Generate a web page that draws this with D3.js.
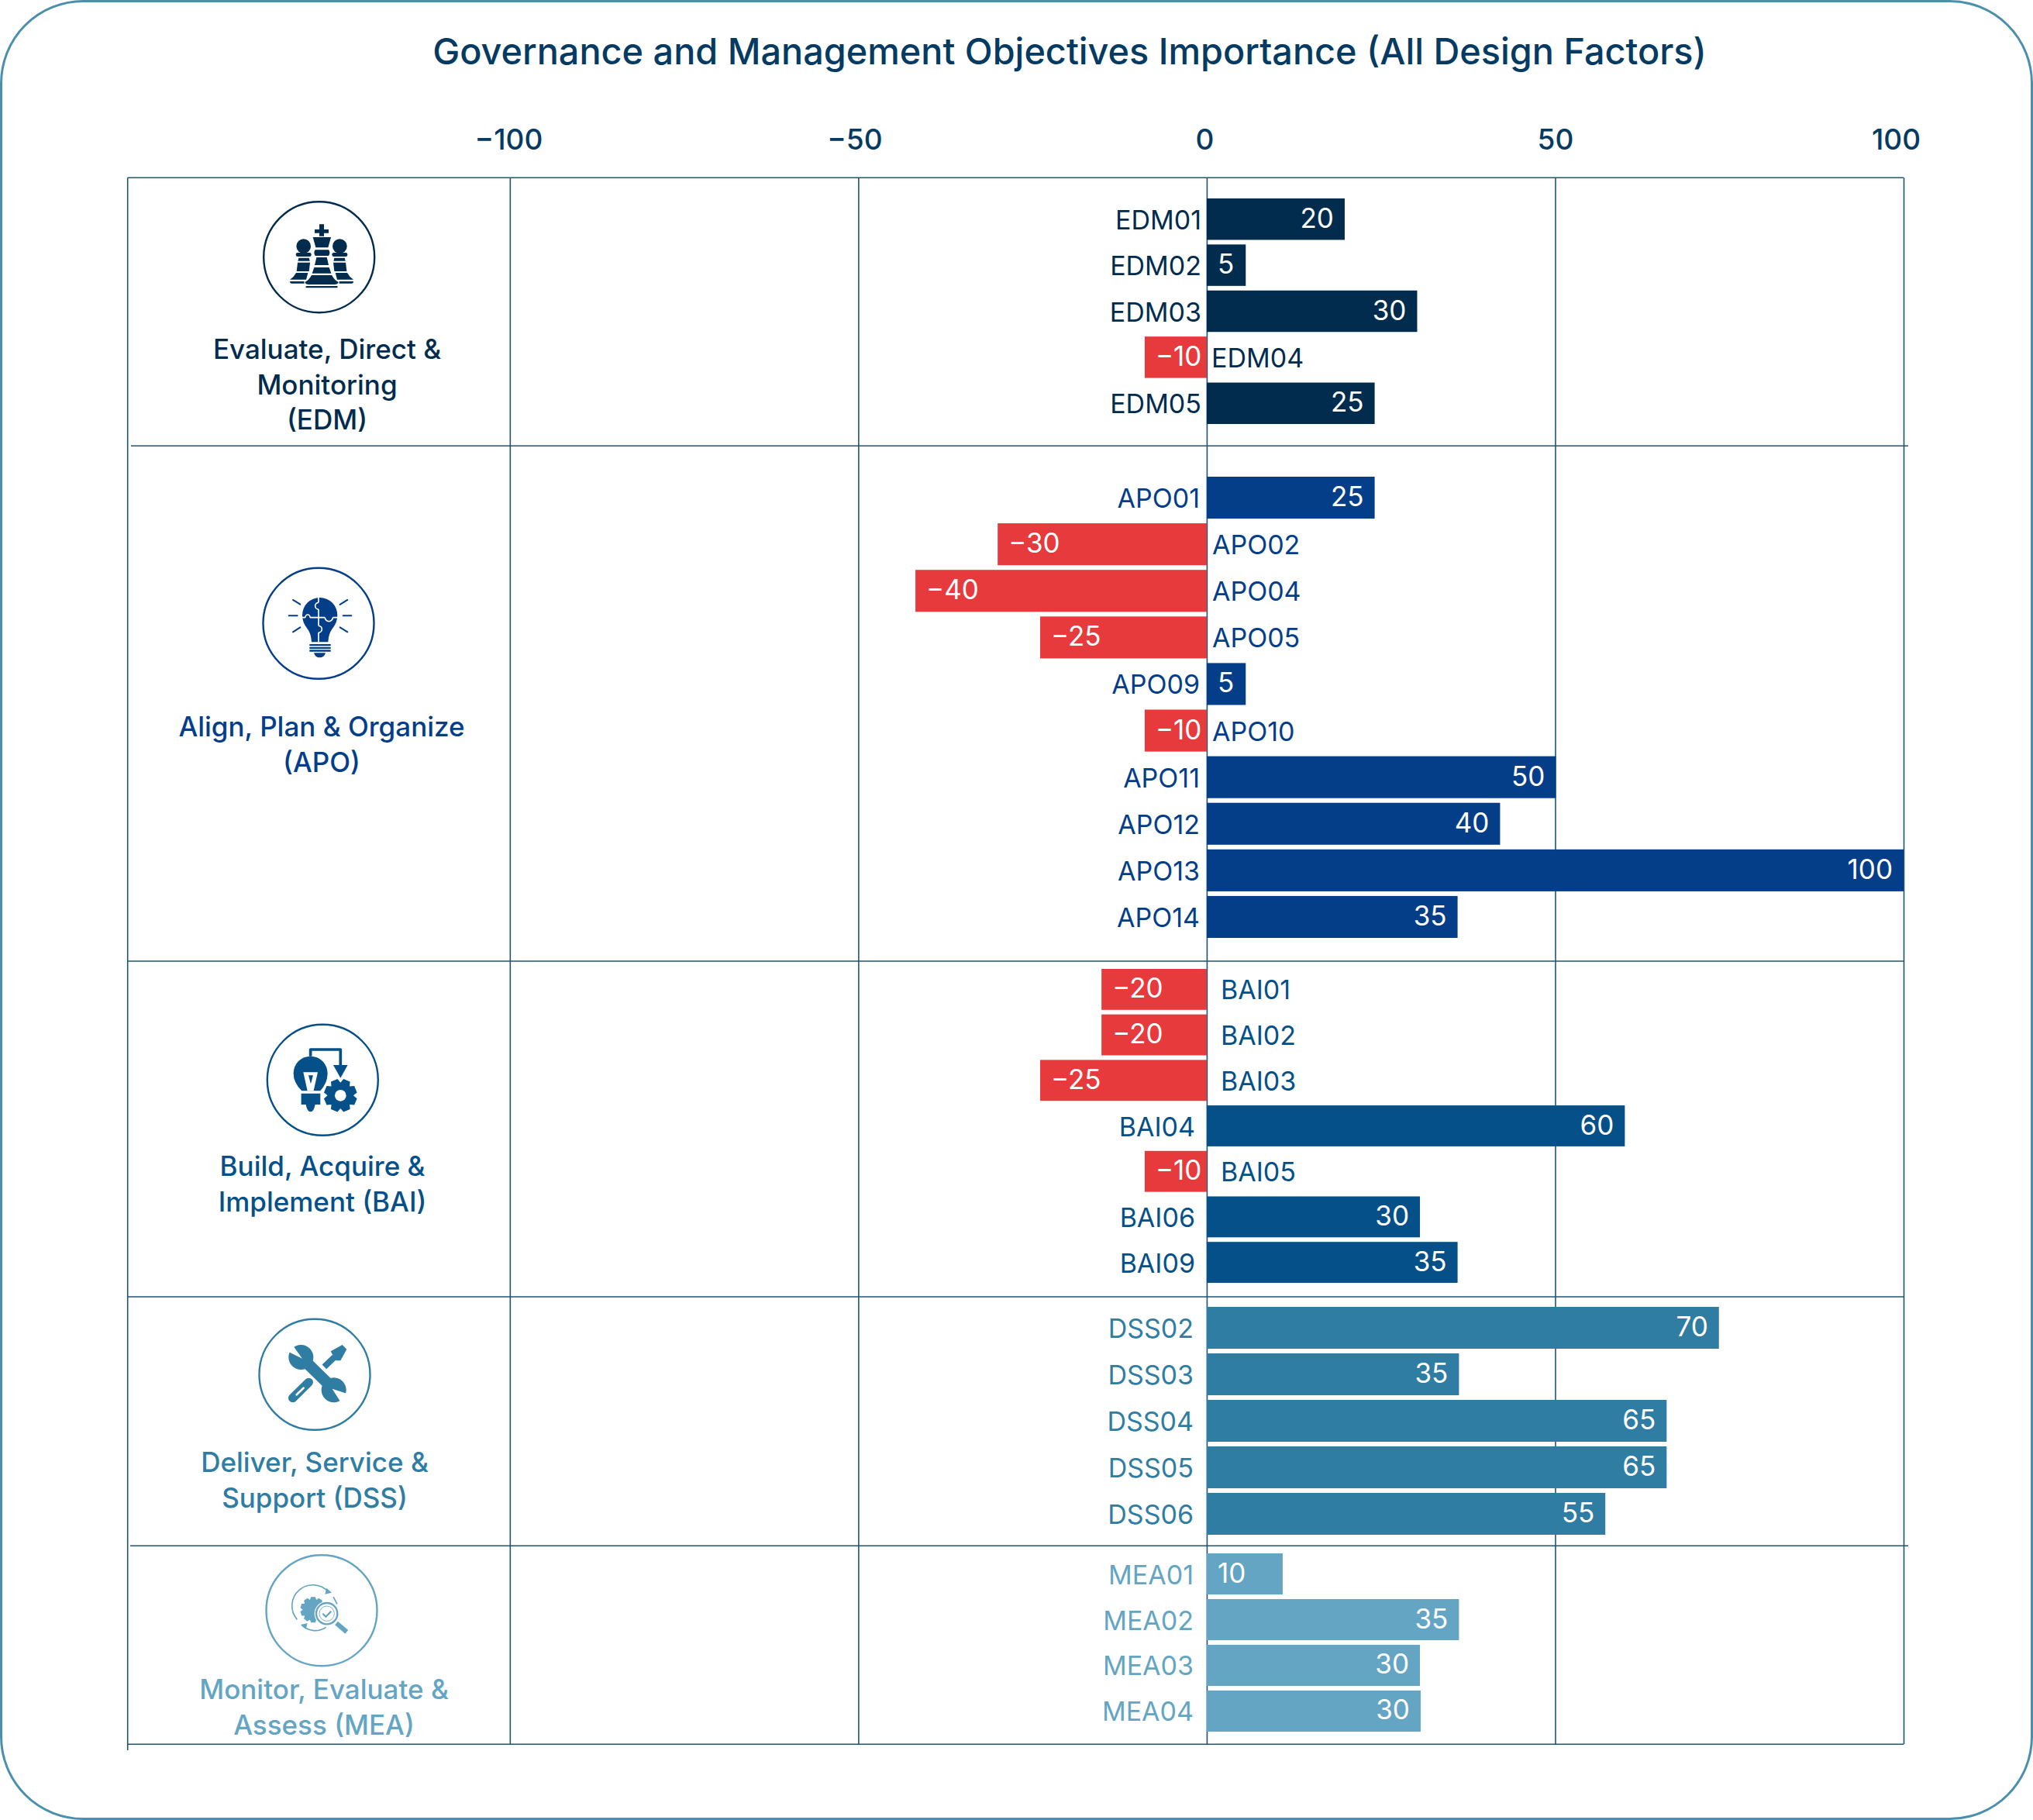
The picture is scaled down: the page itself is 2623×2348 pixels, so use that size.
<!DOCTYPE html>
<html><head><meta charset="utf-8">
<script src="https://cdnjs.cloudflare.com/ajax/libs/d3/7.9.0/d3.min.js"></script>
<style>html,body{margin:0;padding:0;background:#fff;overflow:hidden}svg{display:block}</style>
</head><body><svg id="c" width="2623" height="2348"></svg>
<script>
// ---- data ----
const titleText = "Governance and Management Objectives Importance (All Design Factors)";
const tickValues = [-100, -50, 0, 50, 100];

const edmCodes = ["EDM01","EDM02","EDM03","EDM04","EDM05"];
const edmValues = [20, 5, 30, -10, 25];
const edmDrawn = [19.8, 5.6, 30.2, -8.9, 24.1];      // bar length as drawn on the axis

const apoCodes = ["APO01","APO02","APO04","APO05","APO09","APO10","APO11","APO12","APO13","APO14"];
const apoValues = [25, -30, -40, -25, 5, -10, 50, 40, 100, 35];
const apoDrawn = [24.1, -30, -41.8, -23.9, 5.6, -8.9, 50.1, 42.1, 100, 36];

const baiCodes = ["BAI01","BAI02","BAI03","BAI04","BAI05","BAI06","BAI09"];
const baiValues = [-20, -20, -25, 60, -10, 30, 35];
const baiDrawn = [-15.1, -15.1, -23.9, 60, -8.9, 30.6, 36];

const dssCodes = ["DSS02","DSS03","DSS04","DSS05","DSS06"];
const dssValues = [70, 35, 65, 65, 55];
const dssDrawn = [73.5, 36.2, 66, 66, 57.2];

const meaCodes = ["MEA01","MEA02","MEA03","MEA04"];
const meaValues = [10, 35, 30, 30];
const meaDrawn = [10.9, 36.2, 30.6, 30.7];

const edmName = ["Evaluate, Direct &", "Monitoring", "(EDM)"];
const apoName = ["Align, Plan & Organize", "(APO)"];
const baiName = ["Build, Acquire &", "Implement (BAI)"];
const dssName = ["Deliver, Service &", "Support (DSS)"];
const meaName = ["Monitor, Evaluate &", "Assess (MEA)"];

// ---- layout ----
const W = 2623, H = 2348;
const negColor = "#E63A3D", gridColor = "#1F5475", frameColor = "#4A8FAD";
const plot = {left:164.7, top:229.3, bottom:2250.3};
const FONT = "Inter, sans-serif";

const groups = [
 {codes:edmCodes, values:edmValues, drawn:edmDrawn, name:edmName, color:"#022C4E", band:[256,547],  lblR:1550, lblL:1563, icon:[411.7,331.7], nameX:422, nameY:463,  icn:"chess"},
 {codes:apoCodes, values:apoValues, drawn:apoDrawn, name:apoName, color:"#043E89", band:[615,1210], lblR:1548, lblL:1564, icon:[411,804.3],   nameX:415, nameY:950,  icn:"idea"},
 {codes:baiCodes, values:baiValues, drawn:baiDrawn, name:baiName, color:"#055088", band:[1250,1655],lblR:1542, lblL:1575, icon:[416.3,1393.3],nameX:416, nameY:1517, icn:"build"},
 {codes:dssCodes, values:dssValues, drawn:dssDrawn, name:dssName, color:"#2F7DA3", band:[1686,1980],lblR:1540, lblL:1564, icon:[406,1773.3],  nameX:406, nameY:1899, icn:"tools"},
 {codes:meaCodes, values:meaValues, drawn:meaDrawn, name:meaName, color:"#64A5C4", band:[2004,2234],lblR:1540, lblL:1564, icon:[415,2077.7],  nameX:418, nameY:2192, icn:"monitor"}
];
const separators = [
 {y:575.3, x1:169, x2:2462},{y:1240, x1:164.7, x2:2456},{y:1673, x1:164.7, x2:2456},
 {y:1994.3,x1:168, x2:2462},{y:2250.3,x1:164.7, x2:2456}
];

const svg = d3.select("#c");
svg.append("rect").attr("x",1.5).attr("y",1.5).attr("width",W-3).attr("height",H-3)
   .attr("rx",106).attr("fill","#fff").attr("stroke",frameColor).attr("stroke-width",3);

svg.append("text").attr("class","title").attr("x",1380).attr("y",83).attr("text-anchor","middle")
   .attr("font-family",FONT).attr("font-weight",500).attr("font-size",46.8)
   .attr("fill","#053B63").text(titleText);

// x scale: 0 at 1556.7, 100 at 2456
const x = d3.scaleLinear().domain([-154.85,100]).range([plot.left,2456]);

const axis = svg.append("g").attr("transform",`translate(0,${plot.top})`)
  .call(d3.axisTop(x).tickValues(tickValues).tickSizeInner(-(plot.bottom-plot.top)).tickSizeOuter(0).tickPadding(36));
axis.select(".domain").remove();
axis.selectAll(".tick line").attr("stroke",gridColor).attr("stroke-width",1.6);
axis.selectAll(".tick text").attr("font-family",FONT).attr("font-size",37).attr("font-weight",500)
    .attr("fill","#053B63").attr("dx",d=>d===100?-10:d===0?-3:d===-50?-5:d===-100?-2:0);

const frameLines = svg.append("g").attr("stroke",gridColor).attr("stroke-width",1.6);
frameLines.append("line").attr("x1",x.range()[0]).attr("x2",x.range()[1]).attr("y1",plot.top).attr("y2",plot.top);
frameLines.append("line").attr("x1",plot.left).attr("x2",plot.left).attr("y1",plot.top).attr("y2",2258);
frameLines.selectAll("line.sep").data(separators).join("line").attr("class","sep")
  .attr("x1",d=>d.x1).attr("x2",d=>d.x2).attr("y1",d=>d.y).attr("y2",d=>d.y);

// ---- icons (zoom-space drawings; origin is each icon's circle centre) ----
function gearPath(cx,cy,rOut,rIn,teeth){
  const pts=[], step=2*Math.PI/teeth;
  for(let i=0;i<teeth;i++){
    const a=i*step+step/2;
    [[-.5,rIn],[-.27,rOut],[.27,rOut],[.5,rIn]].forEach(([k,r])=>{
      pts.push([cx+r*Math.cos(a+k*step),cy+r*Math.sin(a+k*step)]);
    });
  }
  return "M"+pts.map(p=>p.join(" ")).join("L")+"Z";
}
const icons = {
 chess(g,c){
  const pawn=(p)=>{
    p.append("circle").attr("cx",725).attr("cy",293).attr("r",28).attr("fill",c);
    p.append("rect").attr("x",695).attr("y",318).attr("width",60).attr("height",15).attr("rx",7).attr("fill",c);
    p.append("path").attr("fill",c).attr("d","M706 338H746L749 350H703ZM702 356H750L746 390H698ZM696 396H742L735 422H672Q688 412 696 396ZM672 429H728V437H678Q672 437 672 429Z");
  };
  pawn(g.append("g"));
  pawn(g.append("g").attr("transform","translate(1590,0) scale(-1,1)"));
  const k=g.append("g").attr("fill",c).attr("stroke","#fff").attr("stroke-width",5).attr("paint-order","stroke");
  k.append("path").attr("d","M786 208H804V228H822V242H804V254H786V242H768V228H786ZM761 258H831L820 298H772ZM770 307H822Q830 318 822 330H770Q762 318 770 307ZM775 336H815L822 366H768ZM766 375H824L832 398H758ZM756 405H834Q845 425 860 432Q858 441 845 441H745Q732 441 730 432Q745 425 756 405Z");
  g.append("rect").attr("x",733).attr("y",447).attr("width",124).attr("height",7).attr("rx",3.5).attr("fill",c);
 },
 idea(g,c){
  g.append("path").attr("fill",c).attr("d","M488 213A68 68 0 0 1 556 281Q556 310 535 335Q522 352 520 385H456Q454 352 441 335Q420 310 420 281A68 68 0 0 1 488 213Z");
  const w=g.append("g").attr("fill","none").attr("stroke","#fff").attr("stroke-width",5);
  w.append("path").attr("d","M483 213V232M483 258V322M483 348V385M420 290H432M450 290H508M538 290H556");
  w.append("path").attr("d","M483 232A13 13 0 0 0 483 258M432 290A9 11 0 0 1 450 290M508 290A15 15 0 0 0 538 290M483 322A13 13 0 0 1 483 348");
  g.append("path").attr("fill",c).attr("d","M448 393H530V400H448ZM448 404H530V411H448ZM448 415H530V422H448ZM465 427H510Q505 445 487 445Q470 445 465 427Z");
  g.append("path").attr("stroke",c).attr("stroke-width",6).attr("fill","none").attr("stroke-linecap","round")
   .attr("d","M384 222L412 239M368 283H401M384 346L412 328M595 222L566 240M610 283H578M595 346L566 328");
 },
 build(g,c){
  g.append("path").attr("fill",c).attr("d","M452 218A66 66 0 0 1 518 284Q518 320 490 352H418Q386 320 386 284A66 66 0 0 1 452 218Z");
  g.append("path").attr("fill","#fff").attr("d","M424 280H480L464 352H440Z");
  g.append("path").attr("fill",c).attr("d","M444 292H462L453 325Z");
  g.append("path").attr("fill",c).attr("d","M416 362H490V405H470Q465 433 452 433Q439 433 434 405H416Z");
  g.append("path").attr("fill","none").attr("stroke",c).attr("stroke-width",11).attr("stroke-linejoin","round").attr("d","M452 218V192H568V256");
  g.append("path").attr("fill",c).attr("d","M540 252H596L568 302Z");
  g.append("path").attr("fill",c).attr("d",gearPath(568,370,65,50,8));
  g.append("circle").attr("cx",568).attr("cy",370).attr("r",22).attr("fill","#fff");
 },
 tools(g,c){
  g.append("path").attr("fill","none").attr("stroke",c).attr("stroke-width",34).attr("stroke-linecap","round").attr("d","M383 371L445 310");
  g.append("path").attr("fill","none").attr("stroke","#fff").attr("stroke-width",8).attr("stroke-linecap","round").attr("d","M398 358L425 332");
  g.append("path").attr("fill","none").attr("stroke",c).attr("stroke-width",24).attr("d","M505 250L545 212");
  g.append("path").attr("fill",c).attr("d","M530 190L575 165L592 182L568 226L550 226Z");
  const wrench="M428 225L535 330";
  g.append("path").attr("fill","none").attr("stroke","#fff").attr("stroke-width",62).attr("d",wrench);
  g.append("path").attr("fill","none").attr("stroke",c).attr("stroke-width",44).attr("d",wrench);
  g.append("circle").attr("cx",415).attr("cy",213).attr("r",48).attr("fill",c);
  g.append("circle").attr("cx",542).attr("cy",340).attr("r",48).attr("fill",c);
  g.append("path").attr("fill","#fff").attr("d","M420 218L382 165L362 190Z");
  g.append("path").attr("fill","#fff").attr("d","M536 335L596 355L572 392Z");
 },
 monitor(g,c){
  g.append("path").attr("fill",c).attr("d",gearPath(462,290,50,40,10));
  g.append("path").attr("fill","none").attr("stroke",c).attr("stroke-width",5)
   .attr("d","M400 328A73 73 0 0 1 522 222M418 350A75 75 0 0 0 512 358M540 240L555 268");
  g.append("path").attr("fill",c).attr("d","M514 206L534 224L508 230ZM414 348L440 342L434 365Z");
  g.append("circle").attr("cx",515).attr("cy",305).attr("r",48).attr("fill","#fff");
  g.append("circle").attr("cx",515).attr("cy",305).attr("r",41).attr("fill","none").attr("stroke",c).attr("stroke-width",7);
  g.append("circle").attr("cx",515).attr("cy",305).attr("r",29).attr("fill","none").attr("stroke",c).attr("stroke-width",2.5);
  g.append("path").attr("fill","none").attr("stroke",c).attr("stroke-width",7).attr("d","M499 305L511 317L532 296");
  g.append("path").attr("fill","none").attr("stroke",c).attr("stroke-width",18).attr("d","M552 342L592 376");
 }
};
const iconOrigin = {chess:[785,335], idea:[483,313], build:[499,310], tools:[468,280], monitor:[495,293]};

// ---- groups ----
groups.forEach(gr=>{
  const rows = gr.codes.map((code,i)=>({code, value:gr.values[i], drawn:gr.drawn[i]}));
  const y = d3.scaleBand().domain(gr.codes).range(gr.band).paddingInner(0.1);
  const g = svg.append("g");
  g.selectAll("rect").data(rows).join("rect")
    .attr("x",d=>x(Math.min(0,d.drawn))).attr("width",d=>Math.abs(x(d.drawn)-x(0)))
    .attr("y",d=>y(d.code)).attr("height",y.bandwidth())
    .attr("fill",d=>d.value<0?negColor:gr.color);

  const mid=d=>y(d.code)+y.bandwidth()/2;
  g.selectAll("text.code").data(rows).join("text").attr("class","code")
    .attr("x",d=>d.value<0?gr.lblL:gr.lblR).attr("y",d=>mid(d)+13)
    .attr("text-anchor",d=>d.value<0?"start":"end")
    .attr("font-family",FONT).attr("font-size",34).attr("fill",gr.color).text(d=>d.code);

  const startAnch=d=>d.value<0||d.value<=10;
  g.selectAll("text.val").data(rows).join("text").attr("class","val")
    .attr("x",d=>startAnch(d)?x(Math.min(0,d.drawn))+14:x(d.drawn)-14).attr("y",d=>mid(d)+11)
    .attr("text-anchor",d=>startAnch(d)?"start":"end")
    .attr("font-family",FONT).attr("font-size",35).attr("fill","#fff")
    .text(d=>d3.format("d")(d.value));

  const [cx,cy]=gr.icon, [ox,oy]=iconOrigin[gr.icn];
  svg.append("circle").attr("cx",cx).attr("cy",cy).attr("r",71.5)
     .attr("fill","none").attr("stroke",gr.color).attr("stroke-width",2.4);
  const ig=svg.append("g").attr("transform",`translate(${cx},${cy}) scale(${1/3}) translate(${-ox},${-oy})`);
  icons[gr.icn](ig,gr.color);

  svg.append("g").selectAll("text").data(gr.name).join("text")
    .attr("x",gr.nameX).attr("y",(d,i)=>gr.nameY+i*45.5).attr("text-anchor","middle")
    .attr("font-family",FONT).attr("font-weight",500).attr("font-size",35).attr("fill",gr.color).text(d=>d);
});
</script></body></html>
